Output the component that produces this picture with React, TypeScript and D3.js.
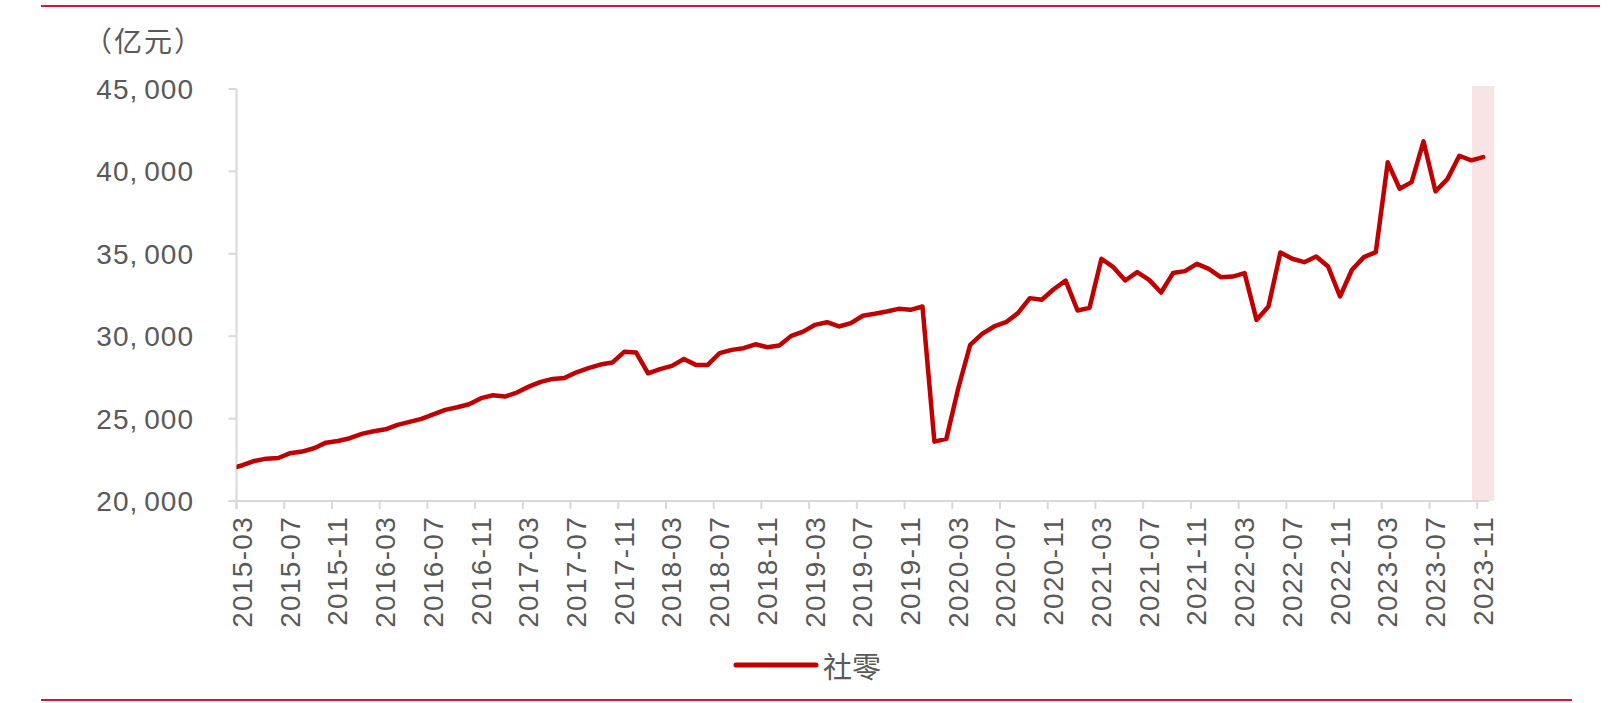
import React from "react";
import * as d3 from "d3";

// ---- data ----
const startMonth = new Date(2015, 1, 1); // 2015-02 (partially clipped at the axis)
const endMonth = new Date(2023, 10, 1); // 2023-11
const months: string[] = d3.timeMonth
  .range(startMonth, d3.timeMonth.offset(endMonth, 1))
  .map((d) => d3.timeFormat("%Y-%m")(d));

const retailValues: number[] = [
  // 2015 Feb-Dec
  21950, 22170, 22430, 22570, 22610, 22900, 23000, 23200, 23540, 23640, 23810,
  // 2016
  24070, 24230, 24350, 24620, 24800, 24980, 25260, 25530, 25690, 25870, 26240, 26420,
  // 2017
  26340, 26580, 26940, 27230, 27410, 27470, 27810, 28060, 28280, 28400, 29050, 29010,
  // 2018
  27750, 28000, 28200, 28620, 28260, 28260, 28970, 29170, 29270, 29510, 29330, 29430,
  // 2019
  30020, 30280, 30690, 30850, 30590, 30790, 31240, 31360, 31500, 31660, 31600, 31800,
  // 2020
  23600, 23770, 26840, 29470, 30140, 30590, 30850, 31400, 32310, 32210, 32850, 33370,
  // 2021
  31560, 31720, 34700, 34190, 33380, 33890, 33420, 32650, 33830, 33950, 34390, 34090,
  // 2022
  33580, 33620, 33830, 30990, 31800, 35080, 34700, 34490, 34840, 34230, 32410, 34030,
  // 2023 Jan-Nov
  34800, 35100, 40550, 38950, 39350, 41820, 38790, 39530, 40950, 40670, 40870,
];

const yTicks: number[] = [20000, 25000, 30000, 35000, 40000, 45000];
const tickMonths: string[] = months.filter((m, i) => i >= 1 && (i - 1) % 4 === 0);
const highlightMonth = "2023-11";
const seriesName = "社零";
const unitLabel = "（亿元）";

// ---- layout ----
const W = 1608;
const H = 703;
const axisX = 236.5;
const bw = 11.93;
const plotTop = 89;
const plotBottom = 501;
const plotRight = axisX + 105 * bw;

const LINE = "#C00000";
const AXIS = "#d9d9d9";
const TEXT = "#595959";
const RULE = "#d0173b";

export default function App() {
  const x = d3
    .scaleBand<string>()
    .domain(months)
    .range([axisX - bw, plotRight])
    .paddingInner(0)
    .paddingOuter(0);
  const y = d3.scaleLinear().domain([20000, 45000]).range([plotBottom, plotTop]);
  const cx = (m: string) => (x(m) as number) + x.bandwidth() / 2;

  const line = d3
    .line<number>()
    .x((_, i) => cx(months[i]))
    .y((v) => y(v));

  const hx = cx(highlightMonth);
  const hw = x.bandwidth() * 1.85;

  const numFont = "'Liberation Sans', Arial, sans-serif";
  const cjkFont = "'Noto Sans CJK SC', sans-serif";

  return (
    <svg
      width={W}
      height={H}
      style={{ position: "absolute", left: 0, top: 0, background: "#fff" }}
    >
      <defs>
        <clipPath id="plotClip">
          <rect x={axisX} y={0} width={plotRight - axisX + 10} height={H} />
        </clipPath>
      </defs>
      {/* top / bottom rules */}
      <line x1={41} x2={1600} y1={6} y2={6} stroke={RULE} strokeWidth={2} />
      <line x1={41} x2={1572} y1={700} y2={700} stroke={RULE} strokeWidth={2} />

      {/* highlight band */}
      <rect
        x={hx - hw / 2}
        y={86}
        width={hw}
        height={plotBottom - 86}
        fill="#f8e3e5"
      />

      {/* y axis */}
      <line x1={axisX} x2={axisX} y1={plotTop} y2={plotBottom + 8} stroke={AXIS} strokeWidth={2} />
      {yTicks.map((t) => {
        const s = d3.format(",")(t).split(",");
        return (
          <g key={t}>
            <line x1={axisX - 8} x2={axisX} y1={y(t)} y2={y(t)} stroke={AXIS} strokeWidth={2} />
            <text
              x={194}
              y={y(t)}
              textAnchor="end"
              dominantBaseline="central"
              fontFamily={numFont}
              fontSize={28}
              letterSpacing={1}
              fill={TEXT}
            >
              <tspan>{s[0] + ","}</tspan>
              <tspan dx={6}>{s[1]}</tspan>
            </text>
          </g>
        );
      })}

      {/* x axis */}
      <line x1={axisX - 8} x2={plotRight} y1={plotBottom} y2={plotBottom} stroke={AXIS} strokeWidth={2} />
      {tickMonths.map((m) => {
        const tx = x(m) as number;
        const lx = cx(m);
        return (
          <g key={m}>
            <line x1={tx} x2={tx} y1={plotBottom} y2={plotBottom + 8} stroke={AXIS} strokeWidth={2} />
            <text
              transform={`translate(${lx},${plotBottom + 15}) rotate(-90)`}
              textAnchor="end"
              dominantBaseline="central"
              fontFamily={numFont}
              fontSize={28}
              letterSpacing={1.3}
              fill={TEXT}
            >
              {m}
            </text>
          </g>
        );
      })}

      {/* series */}
      <g clipPath="url(#plotClip)">
        <path
          d={line(retailValues) || ""}
          fill="none"
          stroke={LINE}
          strokeWidth={4.5}
          strokeLinejoin="round"
          strokeLinecap="round"
        />
      </g>

      {/* unit label */}
      <text x={84} y={40} dominantBaseline="central" fontFamily={cjkFont} fontSize={28} letterSpacing={2} fill={TEXT}>
        {unitLabel}
      </text>

      {/* legend */}
      <line x1={736} x2={816} y1={665} y2={665} stroke={LINE} strokeWidth={5} strokeLinecap="round" />
      <text x={823} y={665} dominantBaseline="central" fontFamily={cjkFont} fontSize={29} fill={TEXT}>
        {seriesName}
      </text>
    </svg>
  );
}
